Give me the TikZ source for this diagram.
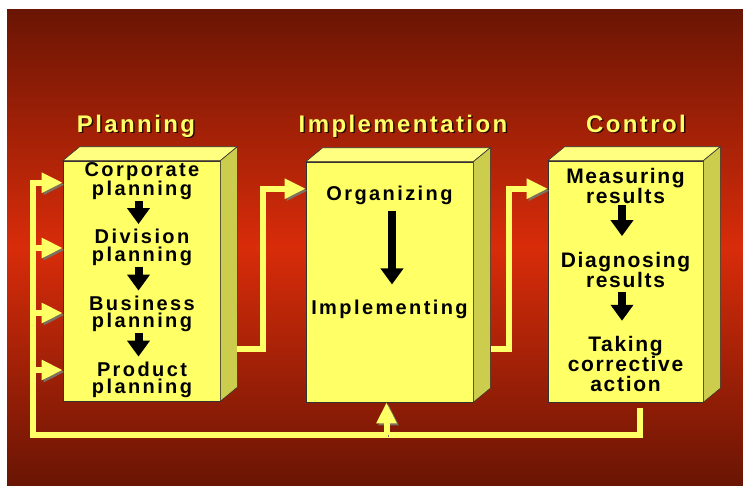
\documentclass[tikz,border=0pt]{standalone}
\usepackage{fontspec}
\setmainfont{Liberation Sans}
\newfontfamily\headfont[LetterSpace=10]{Liberation Sans}
\newfontfamily\boxfont[LetterSpace=12]{Liberation Sans}
\newfontfamily\ctrlfont[LetterSpace=8]{Liberation Sans}
\usepackage{tikz}
\usetikzlibrary{arrows,arrows.meta,positioning}
\definecolor{bgdark}{RGB}{106,21,4}
\definecolor{bgmid}{RGB}{216,44,10}
\definecolor{boxyellow}{RGB}{255,255,102}
\definecolor{boxtop}{RGB}{255,255,128}
\definecolor{boxside}{RGB}{204,204,77}
\definecolor{linkshadow}{RGB}{125,112,92}
\definecolor{headshade}{RGB}{45,8,0}
\tikzset{
    %Define standard arrow tip
    >=stealth',
    %Define style for box faces
    front/.style={
           rectangle,
           draw=black!80, line width=0.6pt,
           fill=boxyellow,
           inner sep=0pt},
    topface/.style={
           draw=black!80, line width=0.6pt,
           fill=boxtop},
    sideface/.style={
           draw=black!80, line width=0.6pt,
           fill=boxside},
    %Define style for texts
    heading/.style={
           anchor=base,
           inner sep=0pt,
           font=\headfont\bfseries\fontsize{24}{26}\selectfont,
           text=boxyellow},
    stage/.style={
           align=center,
           inner sep=0pt,
           font=\boxfont\bfseries\fontsize{20}{17.7}\selectfont,
           text=black},
    ctrlstage/.style={
           stage,
           font=\ctrlfont\bfseries\fontsize{21}{20}\selectfont},
    % Define arrow styles
    flow/.style={
           -{Triangle[width=22pt,length=16pt]},
           line width=8pt,
           draw=black},
    link/.style={
           -{Triangle[width=19pt,length=21pt]},
           line width=6pt,
           line join=miter,
           draw=boxyellow,
           preaction={draw=linkshadow, transform canvas={shift={(2pt,-2pt)}}}}
}
\begin{document}
\begin{tikzpicture}[x=1pt,y=-1pt]

 %background
 \fill[white] (0,0) rectangle (743,485);
 \shade[top color=bgdark, bottom color=bgmid] (7,9) rectangle (743,247.5);
 \shade[top color=bgmid, bottom color=bgdark] (7,247) rectangle (743,485);

 %boxes
 \node[front, minimum width=157pt, minimum height=240pt] (plan) at (141.5,281) {};
 \node[front, minimum width=167pt, minimum height=240pt] (impl) at (389.5,282) {};
 \node[front, minimum width=155pt, minimum height=241pt] (ctrl) at (625.5,281.5) {};
 \foreach \b in {plan,impl,ctrl}{
   \draw[topface] (\b.north west) -- ++(17,-14) -- ([shift={(17,-14)}]\b.north east) -- (\b.north east) -- cycle;
   \draw[sideface] (\b.north east) -- ++(17,-14) -- ([shift={(17,-14)}]\b.south east) -- (\b.south east) -- cycle;
 }

 %headings
 \foreach \t/\x/\n in {Planning/136/h1,Implementation/403/h2,Control/636/h3}{
   \node[heading, text=headshade] at (\x+1.5,133.5) {\t};
   \node[heading] (\n) at (\x,132) {\t};
 }

 %nodes
 \node[stage] (1) at (142,181) {Corporate\\planning};
 \node[stage] (2) at (142,247.5) {Division\\planning};
 \node[stage] (3) at (142,314) {Business\\planning};
 \node[stage] (4) at (142,380) {Product\\planning};
 \node[stage] (5) at (389.5,195.3) {Organizing};
 \node[stage] (6) at (389.5,309) {Implementing};
 \node[ctrlstage] (7) at (625.5,186) {Measuring\\results};
 \node[ctrlstage] (8) at (625.5,270) {Diagnosing\\results};
 \node[ctrlstage] (9) at (625.5,363.7) {Taking\\corrective\\action};

 \foreach \a/\b in {1/2,2/3,3/4}
   \draw[flow, shorten <=1pt, shorten >=5pt] ([xshift=-3.5pt]\a.south) -- ([xshift=-3.5pt]\b.north);
 \draw[flow, shorten <=6pt, shorten >=15pt] ([xshift=2.5pt]5.south) -- ([xshift=2.5pt]6.north);
 \draw[flow, shorten <=1.5pt, shorten >=16pt] ([xshift=-3.5pt]7.south) -- ([xshift=-3.5pt]8.north);
 \draw[flow, shorten <=4pt, shorten >=15pt] ([xshift=-3.5pt]8.south) -- ([xshift=-3.5pt]9.north);

 %links
 \coordinate (pout) at (237,349);
 \coordinate (iout) at (491,349);
 \coordinate (fb) at (640,408);
 \coordinate (corner) at (33,435);
 \coordinate (up) at (386.5,435);
 \draw[link] (pout) -| ([xshift=-43pt,yshift=-27pt]impl.north west) -- ([yshift=-27pt]impl.north west);
 \draw[link] (iout) -| ([xshift=-39pt,yshift=-28pt]ctrl.north west) -- ([yshift=-28pt]ctrl.north west);
 \draw[link] (fb) |- (corner) |- ([yshift=-22pt]plan.north west);
 \foreach \y in {248,313,370}{
   \coordinate (br) at (36,\y);
   \draw[link] (br) -- (br -| plan.west);
 }
 \draw[link] (up) -- (up |- impl.south);

\end{tikzpicture}
\end{document}
